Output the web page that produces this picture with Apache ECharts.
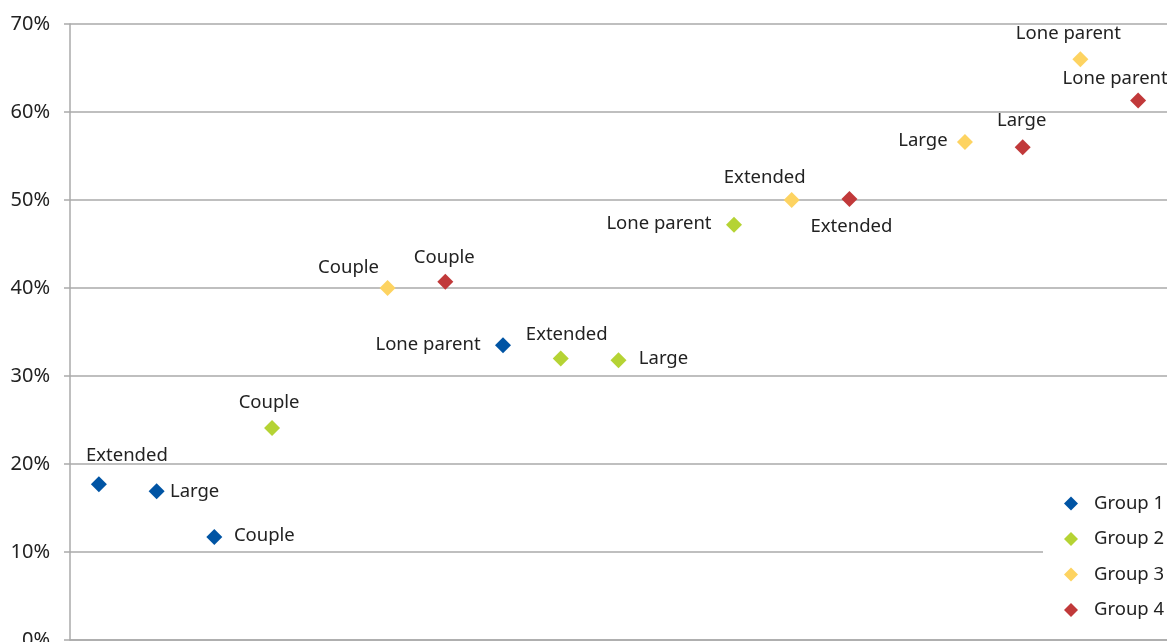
<!DOCTYPE html>
<html>
<head>
<meta charset="utf-8">
<script src="https://cdn.jsdelivr.net/npm/echarts@6/dist/echarts.min.js"></script>
<style>html,body{margin:0;padding:0;background:#fff}#c{width:1167px;height:642px}</style>
</head>
<body>
<div id="c"></div>
<script>
// Category slots along the x axis ('' = empty gap)
const slots = ['G1 Extended','G1 Large','G1 Couple','G2 Couple','',
  'G3 Couple','G4 Couple','G1 Lone parent','G2 Extended','G2 Large','',
  'G2 Lone parent','G3 Extended','G4 Extended','',
  'G3 Large','G4 Large','G3 Lone parent','G4 Lone parent'];
const groupNames = ['Group 1','Group 2','Group 3','Group 4'];
const yTicks = [0,10,20,30,40,50,60,70];

// Values (%) per group
const group1Types = ['Extended','Large','Couple','Lone parent'];
const group1Values = [17.7, 16.9, 11.7, 33.5];
const group2Types = ['Couple','Extended','Large','Lone parent'];
const group2Values = [24.1, 32.0, 31.8, 47.2];
const group3Types = ['Couple','Extended','Large','Lone parent'];
const group3Values = [40.0, 50.0, 56.6, 66.0];
const group4Types = ['Couple','Extended','Large','Lone parent'];
const group4Values = [40.7, 50.1, 56.0, 61.3];

// Label offsets (style), keyed like slots
const labelOffsets = {
  'G1 Extended':[28,-29],'G1 Large':[38,0],'G1 Couple':[50,-1],'G1 Lone parent':[-75,0],
  'G2 Couple':[-3,-25],'G2 Extended':[6,-24],'G2 Large':[45,-1],'G2 Lone parent':[-75,-1],
  'G3 Couple':[-39,-20],'G3 Extended':[-27,-22],'G3 Large':[-42,-1],'G3 Lone parent':[-12,-25],
  'G4 Couple':[-1,-24],'G4 Extended':[2,28],'G4 Large':[-1,-26],'G4 Lone parent':[-23,-22]
};
const colors = ['#0054A4','#B5D334','#FDD361','#C1393A'];
const font = '"Noto Sans", "Open Sans", sans-serif';

function buildSeries(idx, types, values) {
  const prefix = 'G' + (idx + 1) + ' ';
  return {
    name: groupNames[idx],
    type: 'scatter',
    symbol: 'diamond',
    symbolSize: 16,
    itemStyle: { color: colors[idx], opacity: 1 },
    data: types.map((t, i) => ({
      value: [prefix + t, values[i]],
      label: {
        show: true,
        formatter: t,
        position: 'inside',
        offset: labelOffsets[prefix + t],
        color: '#222',
        opacity: 1,
        fontSize: 18.5,
        fontFamily: font
      }
    }))
  };
}

const chart = echarts.init(document.getElementById('c'), null, { renderer: 'canvas' });
chart.setOption({
  animation: false,
  backgroundColor: '#fff',
  grid: { left: 70, right: 0, top: 24, bottom: 2, outerBoundsMode: 'none', containLabel: false },
  xAxis: {
    type: 'category',
    data: slots,
    boundaryGap: true,
    axisLine: { lineStyle: { color: '#aaa', width: 1.5 } },
    axisTick: { show: false },
    axisLabel: { show: false },
    splitLine: { show: false }
  },
  yAxis: {
    type: 'value',
    min: yTicks[0],
    max: yTicks[yTicks.length - 1],
    interval: 10,
    axisLine: { show: true, lineStyle: { color: '#aaa', width: 1.5 } },
    axisTick: { show: true, length: 6, lineStyle: { color: '#aaa', width: 1.5 } },
    axisLabel: { formatter: '{value}%', color: '#222', fontSize: 20, fontFamily: font, margin: 20 },
    splitLine: { lineStyle: { color: '#aaa', width: 1.5 } }
  },
  legend: {
    data: groupNames,
    orient: 'vertical',
    left: 1043,
    top: 484,
    padding: [10, 10, 10, 21],
    backgroundColor: '#fff',
    icon: 'diamond',
    itemWidth: 14,
    itemHeight: 14,
    itemGap: 16.5,
    textStyle: { color: '#222', fontSize: 18.5, fontFamily: font, padding: [0, 0, 0, 11] }
  },
  series: [
    buildSeries(0, group1Types, group1Values),
    buildSeries(1, group2Types, group2Values),
    buildSeries(2, group3Types, group3Values),
    buildSeries(3, group4Types, group4Values)
  ]
});
</script>
</body>
</html>
